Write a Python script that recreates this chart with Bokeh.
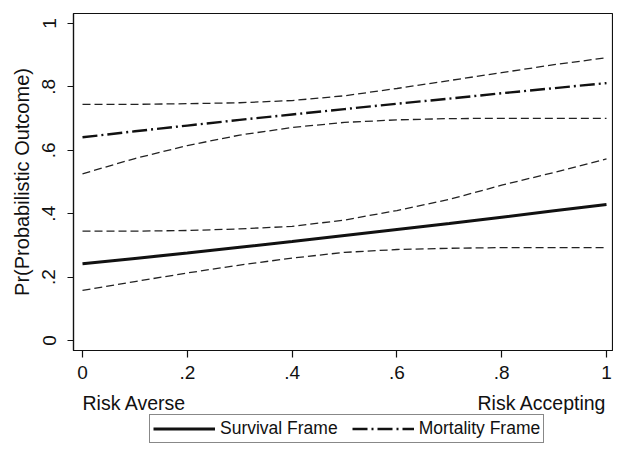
from bokeh.plotting import figure
from bokeh.models import Range1d, FixedTicker, Legend, LegendItem
from bokeh.layouts import column
from bokeh.core.properties import value
from bokeh.embed import file_html
from bokeh.resources import INLINE

# ---- data ----
risk = [0.0, 0.1, 0.2, 0.3, 0.4, 0.5, 0.6, 0.7, 0.8, 0.9, 1.0]

survival_mean = [0.242, 0.259, 0.276, 0.294, 0.312, 0.331, 0.350, 0.369, 0.389, 0.409, 0.429]
survival_upper = [0.345, 0.345, 0.347, 0.352, 0.360, 0.380, 0.410, 0.445, 0.490, 0.530, 0.573]
survival_lower = [0.158, 0.186, 0.213, 0.238, 0.260, 0.278, 0.287, 0.291, 0.293, 0.293, 0.293]

mortality_mean = [0.641, 0.660, 0.678, 0.696, 0.713, 0.730, 0.747, 0.763, 0.780, 0.796, 0.812]
mortality_upper = [0.745, 0.745, 0.747, 0.750, 0.757, 0.772, 0.795, 0.820, 0.845, 0.870, 0.892]
mortality_lower = [0.526, 0.574, 0.615, 0.648, 0.672, 0.688, 0.696, 0.700, 0.701, 0.701, 0.701]

tick_vals = [0, 0.2, 0.4, 0.6, 0.8, 1]
tick_labels = ["0", ".2", ".4", ".6", ".8", "1"]

y_title = "Pr(Probabilistic Outcome)"
x_left_label = "Risk Averse"
x_right_label = "Risk Accepting"
series_names = ["Survival Frame", "Mortality Frame"]

FONT = "Liberation Sans"
INK = "#111111"

W = 613
MAIN_H = 392
FOOT_H = 51
BL, BR = 73, 1

x_range = Range1d(-9 / 524, 1 + 6 / 524)
y_range = Range1d(-10 / 317, 1 + 10 / 317)

p = figure(width=W, height=MAIN_H, output_backend="svg", toolbar_location=None,
           x_range=x_range, y_range=y_range,
           min_border_left=BL, min_border_right=BR, min_border_top=13,
           min_border_bottom=MAIN_H - 350)
p.grid.visible = False
p.background_fill_color = "white"
p.border_fill_color = "white"
p.outline_line_color = INK
p.outline_line_width = 1.2

for ax in (p.xaxis[0], p.yaxis[0]):
    ax.ticker = FixedTicker(ticks=tick_vals)
    ax.major_label_overrides = {v: s for v, s in zip(tick_vals, tick_labels)}
    ax.minor_tick_line_color = None
    ax.axis_line_color = INK
    ax.axis_line_width = 1.2
    ax.major_tick_line_color = INK
    ax.major_tick_line_width = 1.2
    ax.major_tick_in = 0
    ax.major_label_text_font = FONT
    ax.major_label_text_font_size = "19px"
    ax.major_label_text_color = INK

p.yaxis.major_tick_out = 6
p.yaxis.major_label_orientation = "vertical"
p.yaxis.major_label_standoff = 12
p.yaxis.axis_label = y_title
p.yaxis.axis_label_text_font = FONT
p.yaxis.axis_label_text_font_style = "normal"
p.yaxis.axis_label_text_font_size = "20px"
p.yaxis.axis_label_text_color = INK
p.yaxis.axis_label_standoff = 7

p.xaxis.major_tick_out = 7
p.xaxis.major_label_standoff = 8

# confidence bands
ci_kw = dict(line_color="#222222", line_width=1.3, line_dash="8 4")
p.line(risk, survival_upper, **ci_kw)
p.line(risk, survival_lower, **ci_kw)
p.line(risk, mortality_upper, **ci_kw)
p.line(risk, mortality_lower, **ci_kw)

surv_style = dict(line_color=INK, line_width=3)
mort_style = dict(line_color=INK, line_width=2.4, line_dash="15 4 2 4")
p.line(risk, survival_mean, **surv_style)
p.line(risk, mortality_mean, **mort_style)

# ---- footer: end labels of the x scale and the legend ----
# footer y-range starts above the data's 0..1 span, so the proxy legend lines
# below are clipped and only their legend swatches show
FOOT_Y0 = 10
f = figure(width=W, height=FOOT_H, output_backend="svg", toolbar_location=None,
           x_range=x_range, y_range=Range1d(FOOT_Y0, FOOT_Y0 + FOOT_H),
           x_axis_location=None, y_axis_location=None,
           min_border_left=BL, min_border_right=BR, min_border_top=0,
           min_border_bottom=0)
f.grid.visible = False
f.outline_line_color = None
f.background_fill_color = "white"
f.border_fill_color = "white"

label_y = FOOT_Y0 + FOOT_H - 10
f.text(x=[risk[0]], y=[label_y], text=[x_left_label], text_align="left",
       text_baseline="middle", text_font=value(FONT), text_font_size="19.5px",
       text_color=INK)
f.text(x=[risk[-1]], y=[label_y], text=[x_right_label], text_align="right",
       text_baseline="middle", text_font=value(FONT), text_font_size="19.5px",
       text_color=INK)

r_surv = f.line(risk, survival_mean, **surv_style)
r_mort = f.line(risk, mortality_mean, **mort_style)

legend = Legend(items=[LegendItem(label=series_names[0], renderers=[r_surv]),
                       LegendItem(label=series_names[1], renderers=[r_mort])],
                orientation="horizontal", location=(76, 0),
                glyph_width=62, glyph_height=19, label_standoff=5, spacing=14,
                padding=3, margin=0, label_height=19,
                label_text_font=FONT, label_text_font_size="17.5px",
                label_text_color=INK,
                border_line_color=INK, border_line_width=1.2,
                background_fill_color="white", background_fill_alpha=1.0)
f.add_layout(legend, "center")

layout = column(p, f, spacing=0)
open("out.html", "w").write(file_html(layout, INLINE))
